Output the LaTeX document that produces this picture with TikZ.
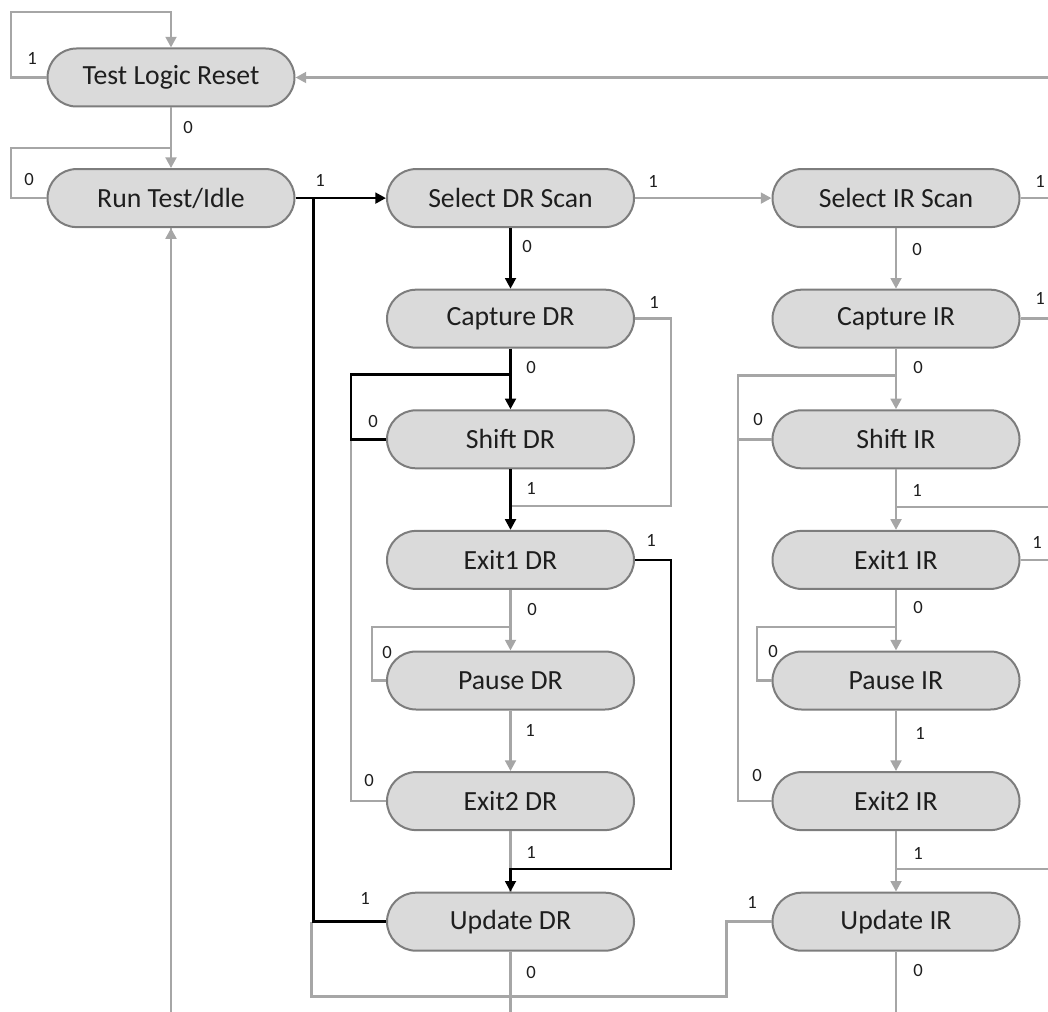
\documentclass[tikz,border=0pt]{standalone}
\usepackage{fontspec}
\setmainfont{Carlito}
\usetikzlibrary{arrows.meta,calc}

\definecolor{wire}{RGB}{166,166,166}
\definecolor{statefill}{RGB}{218,218,218}
\definecolor{stateedge}{RGB}{125,125,125}
\definecolor{ink}{RGB}{30,30,30}

\tikzset{
	state/.style={draw=stateedge, fill=statefill, line width=1.5pt, rounded corners=21.75pt,
		minimum width=185.25pt, minimum height=43.5pt, inner sep=0pt,
		font=\fontsize{20.8}{25}\selectfont, text=ink},
	bit/.style={inner sep=0pt, font=\fontsize{14}{16}\selectfont, text=ink},
	gwire/.style={draw=wire, line width=2pt},
	bwire/.style={draw=black, line width=2pt},
	arr/.style={-{Triangle[length=8pt,width=8pt]}}
}

\begin{document}
\begin{tikzpicture}[x=0.75pt,y=0.75pt,yscale=-1,xscale=1]
	\useasboundingbox (0,0) rectangle (1048,1012);
	\clip (0,0) rectangle (1048,1012);
	
	% States
	\node[state] (tlr) at (171,77.5) {Test Logic Reset};
	\node[state] (rti) at (171,198.1) {Run Test/Idle};
	\node[state] (sdr) at (510.5,198.1) {Select DR Scan};
	\node[state] (cdr) at (510.5,318.7) {Capture DR};
	\node[state] (shd) at (510.5,439.3) {Shift DR};
	\node[state] (e1d) at (510.5,559.9) {Exit1 DR};
	\node[state] (psd) at (510.5,680.5) {Pause DR};
	\node[state] (e2d) at (510.5,801.1) {Exit2 DR};
	\node[state] (upd) at (510.5,921.7) {Update DR};
	\node[state] (sir) at (896,198.1) {Select IR Scan};
	\node[state] (cir) at (896,318.7) {Capture IR};
	\node[state] (shi) at (896,439.3) {Shift IR};
	\node[state] (e1i) at (896,559.9) {Exit1 IR};
	\node[state] (psi) at (896,680.5) {Pause IR};
	\node[state] (e2i) at (896,801.1) {Exit2 IR};
	\node[state] (upi) at (896,921.7) {Update IR};
	
	% Connection
	\draw[gwire,arr] (tlr.west) -- ++(-35.5,0) |- ($(tlr.north)+(0,-35.5)$) -- (tlr.north);
	\draw[gwire,arr] (tlr.south) -- (rti.north);
	\draw[gwire] (rti.west) -- ++(-35.5,0) |- ($(rti.north)+(0,-20)$);
	\draw[gwire,arr] (sdr.east) -- (sir.west);
	\draw[gwire,arr] (sir.east) -- ++(60,0) |- (tlr.east);
	% Connection
	\draw[gwire] (cdr.east) -- ++(36,0) |- ($(e1d.north)+(0,-24)$);
	\draw[gwire,arr] (e1d.south) -- (psd.north);
	\draw[gwire] (psd.west) -- ++(-14,0) |- ($(psd.north)+(0,-23.5)$);
	\draw[gwire,arr] (psd.south) -- (e2d.north);
	\draw[gwire] (e2d.west) -- ++(-35,0) -- ($(shd.west)+(-35,0)$);
	\draw[gwire] (e2d.south) -- (upd.north);
	\draw[gwire,arr] (upd.south) -- ++(0,120) -| (rti.south);
	% Connection
	\draw[gwire,arr] (sir.south) -- (cir.north);
	\draw[gwire] (cir.east) -- ++(60,0) |- ($(e1i.north)+(0,-23)$);
	\draw[gwire,arr] (cir.south) -- (shi.north);
	\draw[gwire] (shi.west) -- ++(-33.5,0) |- ($(shi.north)+(0,-34)$);
	\draw[gwire,arr] (shi.south) -- (e1i.north);
	\draw[gwire] (e1i.east) -- ++(60,0) |- ($(upi.north)+(0,-22.7)$);
	\draw[gwire,arr] (e1i.south) -- (psi.north);
	\draw[gwire] (psi.west) -- ++(-14.5,0) |- ($(psi.north)+(0,-23.5)$);
	\draw[gwire,arr] (psi.south) -- (e2i.north);
	\draw[gwire] (e2i.west) -- ++(-33.5,0) -- ($(shi.west)+(-33.5,0)$);
	\draw[gwire,arr] (e2i.south) -- (upi.north);
	\draw[gwire] (upi.west) -- ++(-45,0) -- ++(0,75) -| ($(upd.west)+(-74.5,0)$);
	\draw[gwire] (upi.south) -- ++(0,120) -| (rti.south);
	% Connection
	\draw[bwire,arr] (rti.east) -- (sdr.west);
	\draw[bwire,arr] (sdr.south) -- (cdr.north);
	\draw[bwire,arr] (cdr.south) -- (shd.north);
	\draw[bwire] (shd.west) -- ++(-35,0) |- ($(shd.north)+(0,-35)$);
	\draw[bwire,arr] (shd.south) -- (e1d.north);
	\draw[bwire,arr] (e1d.east) -- ++(36,0) |- ($(upd.north)+(0,-22.7)$) -- (upd.north);
	\draw[bwire] (upd.west) -| ($(rti.east)+(18,0)$);
	
	% Text Node
	\node[bit] (b1) at (32,58) {1};
	\node[bit] (b2) at (188,128) {0};
	\node[bit] (b3) at (29,180) {0};
	\node[bit] (b4) at (320,180) {1};
	\node[bit] (b5) at (653,181) {1};
	\node[bit] (b6) at (1040,181) {1};
	\node[bit] (b7) at (527,247) {0};
	\node[bit] (b8) at (654,302) {1};
	\node[bit] (b9) at (531,368) {0};
	\node[bit] (b10) at (373,422) {0};
	\node[bit] (b11) at (531,488) {1};
	\node[bit] (b12) at (651,540) {1};
	\node[bit] (b13) at (532,610) {0};
	\node[bit] (b14) at (387,653) {0};
	\node[bit] (b15) at (530,730) {1};
	\node[bit] (b16) at (369,780) {0};
	\node[bit] (b17) at (531,852) {1};
	\node[bit] (b18) at (365,898) {1};
	\node[bit] (b19) at (531,972) {0};
	% Text Node
	\node[bit] (b20) at (917,250) {0};
	\node[bit] (b21) at (1040,298) {1};
	\node[bit] (b22) at (918,368) {0};
	\node[bit] (b23) at (758,420) {0};
	\node[bit] (b24) at (917,490) {1};
	\node[bit] (b25) at (1037,542) {1};
	\node[bit] (b26) at (918,608) {0};
	\node[bit] (b27) at (773,652) {0};
	\node[bit] (b28) at (920,733) {1};
	\node[bit] (b29) at (757,775) {0};
	\node[bit] (b30) at (918,853) {1};
	\node[bit] (b31) at (752,902) {1};
	\node[bit] (b32) at (918,970) {0};
	
\end{tikzpicture}
\end{document}
